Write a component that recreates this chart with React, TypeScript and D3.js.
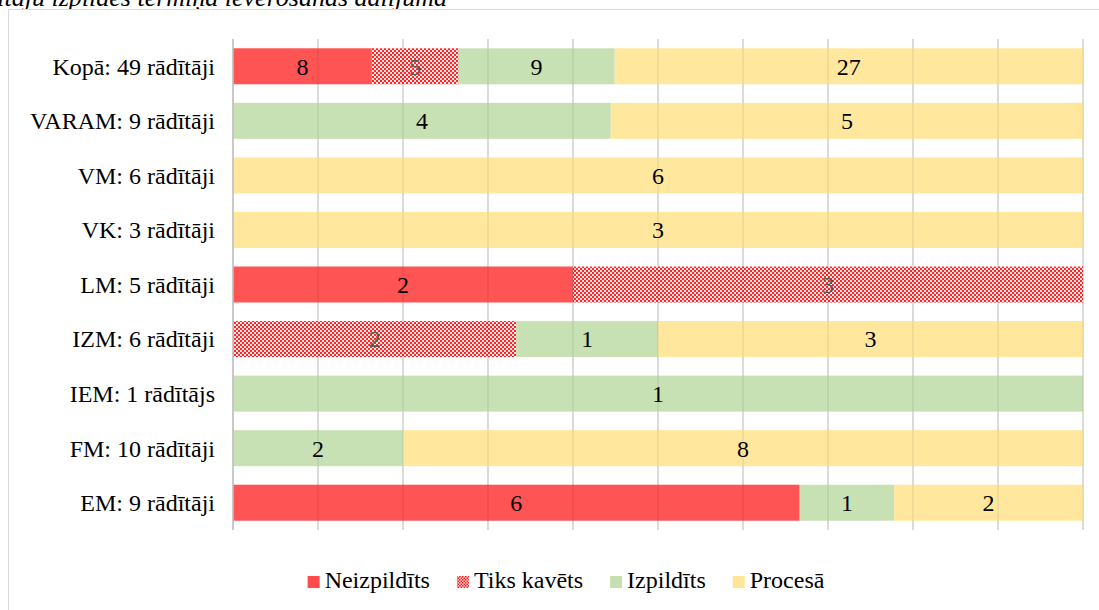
import React from 'react';
import * as d3 from 'd3';

// categories top to bottom
const categories = [
  'Kopā: 49 rādītāji',
  'VARAM: 9 rādītāji',
  'VM: 6 rādītāji',
  'VK: 3 rādītāji',
  'LM: 5 rādītāji',
  'IZM: 6 rādītāji',
  'IEM: 1 rādītājs',
  'FM: 10 rādītāji',
  'EM: 9 rādītāji',
];
const seriesNames = ['Neizpildīts', 'Tiks kavēts', 'Izpildīts', 'Procesā'];
const neizpildits = [8, 0, 0, 0, 2, 0, 0, 0, 6];
const tiksKavets = [5, 0, 0, 0, 3, 2, 0, 0, 0];
const izpildits = [9, 4, 0, 0, 0, 1, 1, 2, 1];
const procesa = [27, 5, 6, 3, 0, 3, 0, 8, 2];
const xTicks = [0, 0.1, 0.2, 0.3, 0.4, 0.5, 0.6, 0.7, 0.8, 0.9, 1];
const titleText = 'Rādītāju izpildes termiņa ievērošanas dalījumā';

const W = 1099;
const H = 610;
const FONT = "'Liberation Serif', 'Times New Roman', serif";
const colors = ['#FF4B4B', 'url(#checker)', '#C5DFB0', '#FFE699'];
const swatch = ['#FF4B4B', 'url(#checkerSmall)', '#C5DFB0', '#FFE699'];

const measure = (t: string) => {
  const ctx = document.createElement('canvas').getContext('2d')!;
  ctx.font = `24px ${FONT}`;
  return ctx.measureText(t).width;
};

export default function App() {
  const rows = categories.map((c, i) => ({
    cat: c,
    [seriesNames[0]]: neizpildits[i],
    [seriesNames[1]]: tiksKavets[i],
    [seriesNames[2]]: izpildits[i],
    [seriesNames[3]]: procesa[i],
  }));
  const stacked = d3.stack<any>().keys(seriesNames).offset(d3.stackOffsetExpand)(rows);

  const x = d3.scaleLinear().domain([0, 1]).range([233, 1083]);
  const y = d3.scaleBand().domain(categories).range([39, 530]).paddingInner(0.34).paddingOuter(0.17);

  // legend layout
  const box = 12;
  const gapText = 5;
  const gapItem = 27;
  const widths = seriesNames.map(measure);
  const total = widths.reduce((a, w) => a + box + gapText + w, 0) + gapItem * (seriesNames.length - 1);
  let lx = 566 - total / 2;
  const legend = seriesNames.map((s, i) => {
    const item = { s, i, x: lx };
    lx += box + gapText + widths[i] + gapItem;
    return item;
  });

  return (
    <svg width={W} height={H} style={{ position: 'absolute', left: 0, top: 0, background: '#fff' }} fontFamily={FONT}>
      <defs>
        <pattern id="checker" width="4" height="4" patternUnits="userSpaceOnUse">
          <rect width="4" height="4" fill="#FFE4E4" />
          <rect width="2" height="2" fill="#FF1A1A" />
          <rect x="2" y="2" width="2" height="2" fill="#FF1A1A" />
        </pattern>
        <pattern id="checkerSmall" width="3" height="3" patternUnits="userSpaceOnUse">
          <rect width="3" height="3" fill="#FFD0D0" />
          <rect width="1.5" height="1.5" fill="#FF1A1A" />
          <rect x="1.5" y="1.5" width="1.5" height="1.5" fill="#FF1A1A" />
        </pattern>
      </defs>

      <text x={447} y={6} textAnchor="end" fontSize={26} fontStyle="italic" fill="#000">{titleText}</text>
      <rect x={8.5} y={9.5} width={1120} height={620} fill="#fff" stroke="#d9d9d9" />

      {/* gridlines */}
      {xTicks.map((t) => (
        <line key={t} x1={x(t)} x2={x(t)} y1={39} y2={530} stroke="#d9d9d9" strokeWidth={1.3} />
      ))}

      {/* bars */}
      {stacked.map((layer, si) => (
        <g key={layer.key}>
          {layer.map((d, ci) => {
            const v = [neizpildits, tiksKavets, izpildits, procesa][si][ci];
            if (!v) return null;
            const x0 = x(d[0]);
            const x1 = x(d[1]);
            const yy = y(categories[ci])!;
            return (
              <g key={ci}>
                <rect x={x0} y={yy} width={x1 - x0} height={y.bandwidth()} fill={colors[si]} fillOpacity={0.95} />
                <text
                  x={(x0 + x1) / 2}
                  y={yy + y.bandwidth() / 2}
                  dy="0.35em"
                  textAnchor="middle"
                  fontSize={24}
                  fill={si === 1 ? '#595959' : '#000'}
                >
                  {v}
                </text>
              </g>
            );
          })}
        </g>
      ))}

      {/* gridlines showing through bars */}
      {xTicks.slice(1).map((t) => (
        <line key={'o' + t} x1={x(t)} x2={x(t)} y1={39} y2={530} stroke="#000" strokeOpacity={0.08} strokeWidth={1.3} />
      ))}
      <line x1={x(0)} x2={x(0)} y1={39} y2={530} stroke="#bfbfbf" strokeWidth={1.5} />

      {/* category labels */}
      {categories.map((c) => (
        <text key={c} x={215} y={y(c)! + y.bandwidth() / 2} dy="0.35em" textAnchor="end" fontSize={24} fill="#000">
          {c}
        </text>
      ))}

      {/* legend */}
      {legend.map(({ s, i, x: px }) => (
        <g key={s}>
          <rect x={px} y={576} width={box} height={box} fill={swatch[i]} />
          <text x={px + box + gapText} y={588} fontSize={24} fill="#000">{s}</text>
        </g>
      ))}
    </svg>
  );
}
